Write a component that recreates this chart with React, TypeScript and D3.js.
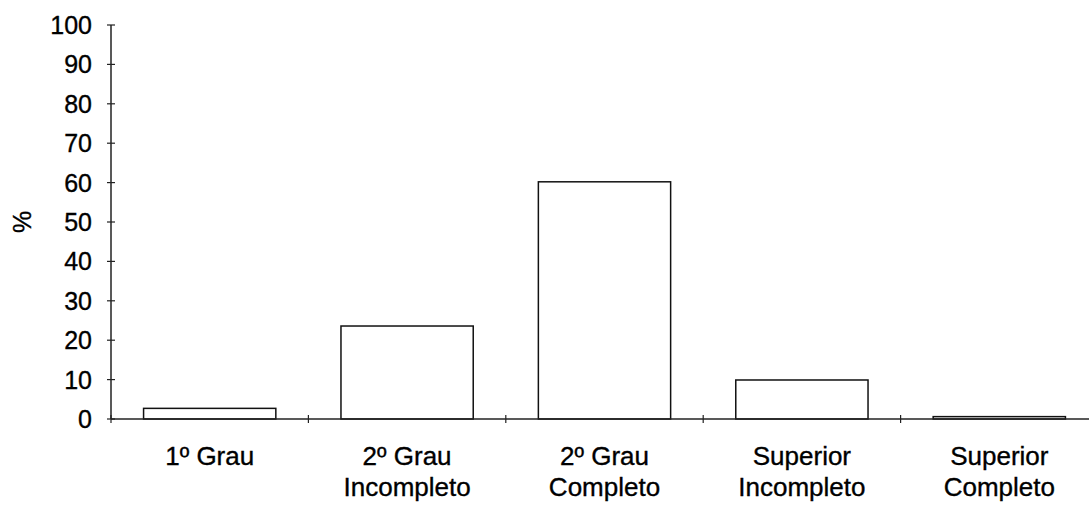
import React from "react";
import * as d3 from "d3";

const categories: string[][] = [
  ["1º Grau"],
  ["2º Grau", "Incompleto"],
  ["2º Grau", "Completo"],
  ["Superior", "Incompleto"],
  ["Superior", "Completo"],
];
const values: number[] = [2.7, 23.6, 60.2, 9.9, 0.6];
const yTicks: number[] = [0, 10, 20, 30, 40, 50, 60, 70, 80, 90, 100];
const yLabel = "%";

export default function App() {
  const W = 1089;
  const H = 508;
  const left = 111;
  const right = 1098;
  const top = 25;
  const bottom = 419;
  const x = d3
    .scaleBand<number>()
    .domain(categories.map((_, i) => i))
    .range([left, right])
    .paddingInner(0.33)
    .paddingOuter(0.165);
  const bandStep = (right - left) / categories.length;
  const y = d3.scaleLinear().domain([0, 100]).range([bottom, top]);
  const font = "'Liberation Sans', Arial, sans-serif";
  const textStyle = { stroke: "#000", strokeWidth: 0.35 };
  return (
    <svg
      width={W}
      height={H}
      style={{ position: "absolute", left: 0, top: 0 }}
      fontFamily={font}
    >
      <rect width={W} height={H} fill="#fff" />
      {values.map((v, i) => (
        <rect
          key={i}
          x={x(i)}
          y={y(v)}
          width={x.bandwidth()}
          height={bottom - y(v)}
          fill="#fff"
          stroke="#111"
          strokeWidth={1.5}
        />
      ))}
      {/* y axis */}
      <line x1={left} x2={left} y1={top} y2={bottom} stroke="#222" strokeWidth={1.5} />
      {yTicks.map((t) => (
        <g key={t}>
          <line x1={left - 4} x2={left + 4} y1={y(t)} y2={y(t)} stroke="#222" strokeWidth={1.2} />
          <text x={left - 19} y={y(t)} dy="0.36em" textAnchor="end" fontSize={25} fill="#000" {...textStyle}>
            {t}
          </text>
        </g>
      ))}
      {/* x axis */}
      <line x1={left} x2={W} y1={bottom} y2={bottom} stroke="#222" strokeWidth={1.5} />
      {d3.range(categories.length + 1).map((i) => (
        <line
          key={i}
          x1={left + i * bandStep}
          x2={left + i * bandStep}
          y1={bottom - 4}
          y2={bottom + 4}
          stroke="#222"
          strokeWidth={1.2}
        />
      ))}
      {categories.map((lines, i) => (
        <text
          key={i}
          x={(x(i) as number) + x.bandwidth() / 2}
          y={465}
          textAnchor="middle"
          fontSize={26}
          fill="#000"
          {...textStyle}
        >
          {lines.map((l, j) => (
            <tspan key={j} x={(x(i) as number) + x.bandwidth() / 2} dy={j === 0 ? 0 : 31}>
              {l}
            </tspan>
          ))}
        </text>
      ))}
      <text
        transform={`translate(31,${y(50)}) rotate(-90)`}
        textAnchor="middle"
        fontSize={25}
        fill="#000"
        {...textStyle}
      >
        {yLabel}
      </text>
    </svg>
  );
}
